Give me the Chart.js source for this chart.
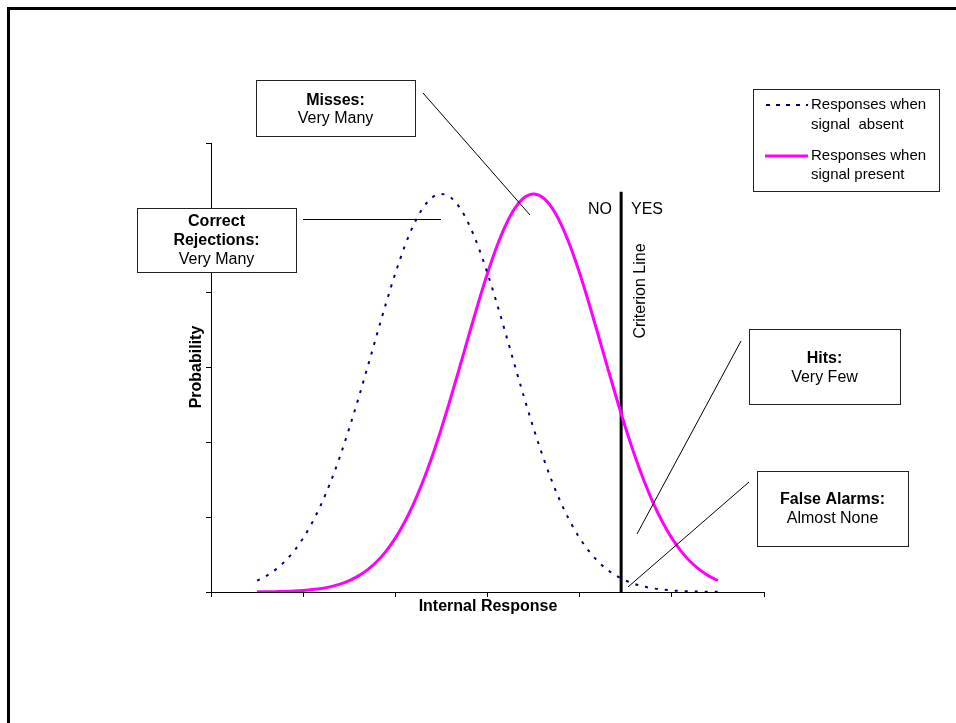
<!DOCTYPE html>
<html>
<head>
<meta charset="utf-8">
<script src="https://cdn.jsdelivr.net/npm/chart.js@4/dist/chart.umd.min.js"></script>
<style>
  body { margin: 0; background: #fff; }
  canvas { display: block; }
</style>
</head>
<body>
<canvas id="chart" width="956" height="723"></canvas>
<script>
// internal response (x) values
const responseX = [0.5, 0.6, 0.7, 0.8, 0.9, 1.0, 1.1, 1.2, 1.3, 1.4,
  1.5, 1.6, 1.7, 1.8, 1.9, 2.0, 2.1, 2.2, 2.3, 2.4,
  2.5, 2.6, 2.7, 2.8, 2.9, 3.0, 3.1, 3.2, 3.3, 3.4,
  3.5, 3.6, 3.7, 3.8, 3.9, 4.0, 4.1, 4.2, 4.3, 4.4,
  4.5, 4.6, 4.7, 4.8, 4.9, 5.0, 5.1, 5.2, 5.3, 5.4, 5.5];

// responses when signal absent (dotted)
const absentProb = [0.0152, 0.0215, 0.0299, 0.0407, 0.0547, 0.0720, 0.0932, 0.1184, 0.1479, 0.1814,
  0.2187, 0.2589, 0.3011, 0.3441, 0.3862, 0.4259, 0.4614, 0.4910, 0.5133, 0.5272,
  0.5319, 0.5272, 0.5133, 0.4910, 0.4614, 0.4259, 0.3862, 0.3441, 0.3011, 0.2589,
  0.2187, 0.1814, 0.1479, 0.1184, 0.0932, 0.0720, 0.0547, 0.0407, 0.0299, 0.0215,
  0.0152, 0.0106, 0.0072, 0.0048, 0.0032, 0.0021, 0.0013, 0.0008, 0.0005, 0.0003, 0.0002];

// responses when signal present (solid magenta)
const presentProb = [0.0002, 0.0003, 0.0005, 0.0008, 0.0013, 0.0021, 0.0032, 0.0048, 0.0072, 0.0106,
  0.0152, 0.0215, 0.0299, 0.0407, 0.0547, 0.0720, 0.0932, 0.1184, 0.1479, 0.1814,
  0.2187, 0.2589, 0.3011, 0.3441, 0.3862, 0.4259, 0.4614, 0.4910, 0.5133, 0.5272,
  0.5319, 0.5272, 0.5133, 0.4910, 0.4614, 0.4259, 0.3862, 0.3441, 0.3011, 0.2589,
  0.2187, 0.1814, 0.1479, 0.1184, 0.0932, 0.0720, 0.0547, 0.0407, 0.0299, 0.0215, 0.0152];

const criterionX = [4.45, 4.45];
const criterionY = [0, 0.535];

const xTicks = [0, 1, 2, 3, 4, 5, 6];
const yTicks = [0, 0.1, 0.2, 0.3, 0.4, 0.5, 0.6];

const legendLabels = [["Responses when", "signal  absent"], ["Responses when", "signal present"]];

const toPoints = (xs, ys) => xs.map((x, i) => ({ x: x, y: ys[i] }));

const FONT = '"Liberation Sans", Arial, sans-serif';

function textBox(c, x, y, w, h, lines) {
  c.save();
  c.fillStyle = "#fff";
  c.fillRect(x, y, w, h);
  c.strokeStyle = "#222";
  c.lineWidth = 1;
  c.strokeRect(x + 0.5, y + 0.5, w, h);
  c.fillStyle = "#000";
  c.textAlign = "center";
  c.textBaseline = "middle";
  lines.forEach(l => {
    c.font = (l.bold ? "bold " : "") + "16px " + FONT;
    c.fillText(l.t, x + w / 2, l.y);
  });
  c.restore();
}

function line(c, x1, y1, x2, y2) {
  c.beginPath();
  c.moveTo(x1, y1);
  c.lineTo(x2, y2);
  c.stroke();
}

const decor = {
  id: "decor",
  afterDraw(chart) {
    const c = chart.ctx;
    c.save();
    // outer frame (runs off right/bottom)
    c.strokeStyle = "#000";
    c.lineWidth = 3;
    c.strokeRect(8.5, 8.5, 1100, 900);

    // leader lines
    c.lineWidth = 1;
    c.strokeStyle = "#000";
    line(c, 423, 93, 530, 215);
    line(c, 303, 219.5, 441, 219.5);
    line(c, 637, 534, 741, 341);
    line(c, 628, 587, 749, 482);

    // boxes
    textBox(c, 256, 80, 159, 56, [{ t: "Misses:", bold: true, y: 101 }, { t: "Very Many", y: 119 }]);
    textBox(c, 137, 208, 159, 64, [{ t: "Correct", bold: true, y: 222 }, { t: "Rejections:", bold: true, y: 241 }, { t: "Very Many", y: 260 }]);
    textBox(c, 749, 329, 151, 75, [{ t: "Hits:", bold: true, y: 359 }, { t: "Very Few", y: 378 }]);
    textBox(c, 757, 471, 151, 75, [{ t: "False Alarms:", bold: true, y: 500 }, { t: "Almost None", y: 519 }]);

    // legend
    c.fillStyle = "#fff";
    c.fillRect(753, 89, 186, 102);
    c.strokeStyle = "#222";
    c.strokeRect(753.5, 89.5, 186, 102);
    c.strokeStyle = "#000080";
    c.lineWidth = 2;
    c.setLineDash([4, 6]);
    line(c, 766, 105, 808, 105);
    c.setLineDash([]);
    c.strokeStyle = "#ff00ff";
    c.lineWidth = 3;
    line(c, 765, 156, 808, 156);
    c.fillStyle = "#000";
    c.font = "15px " + FONT;
    c.textAlign = "left";
    c.textBaseline = "middle";
    c.fillText(legendLabels[0][0], 811, 105);
    c.fillText(legendLabels[0][1], 811, 125);
    c.fillText(legendLabels[1][0], 811, 156);
    c.fillText(legendLabels[1][1], 811, 175);

    // NO / YES and criterion label
    c.font = "16px " + FONT;
    c.fillText("NO", 588, 210);
    c.fillText("YES", 631, 210);
    c.save();
    c.translate(641, 291);
    c.rotate(-Math.PI / 2);
    c.textAlign = "center";
    c.fillText("Criterion Line", 0, 0);
    c.restore();

    // axis titles
    c.font = "bold 16px " + FONT;
    c.textAlign = "center";
    c.fillText("Internal Response", 488, 607);
    c.save();
    c.translate(197, 367);
    c.rotate(-Math.PI / 2);
    c.fillText("Probability", 0, 0);
    c.restore();
    c.restore();
  }
};

new Chart(document.getElementById("chart"), {
  type: "scatter",
  data: {
    datasets: [
      {
        label: "Responses when signal absent",
        data: toPoints(responseX, absentProb),
        showLine: true,
        borderColor: "#000080",
        borderWidth: 2,
        borderDash: [3, 7],
        pointRadius: 0,
        cubicInterpolationMode: "monotone"
      },
      {
        label: "Responses when signal present",
        data: toPoints(responseX, presentProb),
        showLine: true,
        borderColor: "#ff00ff",
        borderWidth: 3,
        pointRadius: 0,
        cubicInterpolationMode: "monotone"
      },
      {
        label: "Criterion",
        data: toPoints(criterionX, criterionY),
        showLine: true,
        borderColor: "#000",
        borderWidth: 3,
        pointRadius: 0
      }
    ]
  },
  options: {
    responsive: false,
    animation: false,
    events: [],
    layout: { padding: { left: 201, right: 192, top: 143, bottom: 121 } },
    plugins: { legend: { display: false }, tooltip: { enabled: false } },
    scales: {
      x: {
        type: "linear",
        min: 0,
        max: 6,
        afterBuildTicks: s => { s.ticks = xTicks.map(v => ({ value: v })); },
        afterFit: s => { s.height = 10; },
        ticks: { display: false },
        grid: { drawOnChartArea: false, drawTicks: true, tickLength: 5, color: "#000" },
        border: { color: "#000", width: 1 }
      },
      y: {
        type: "linear",
        min: 0,
        max: 0.6,
        afterBuildTicks: s => { s.ticks = yTicks.map(v => ({ value: v })); },
        afterFit: s => { s.width = 10; },
        ticks: { display: false },
        grid: { drawOnChartArea: false, drawTicks: true, tickLength: 5, color: "#000" },
        border: { color: "#000", width: 1 }
      }
    }
  },
  plugins: [decor]
});
</script>
</body>
</html>
